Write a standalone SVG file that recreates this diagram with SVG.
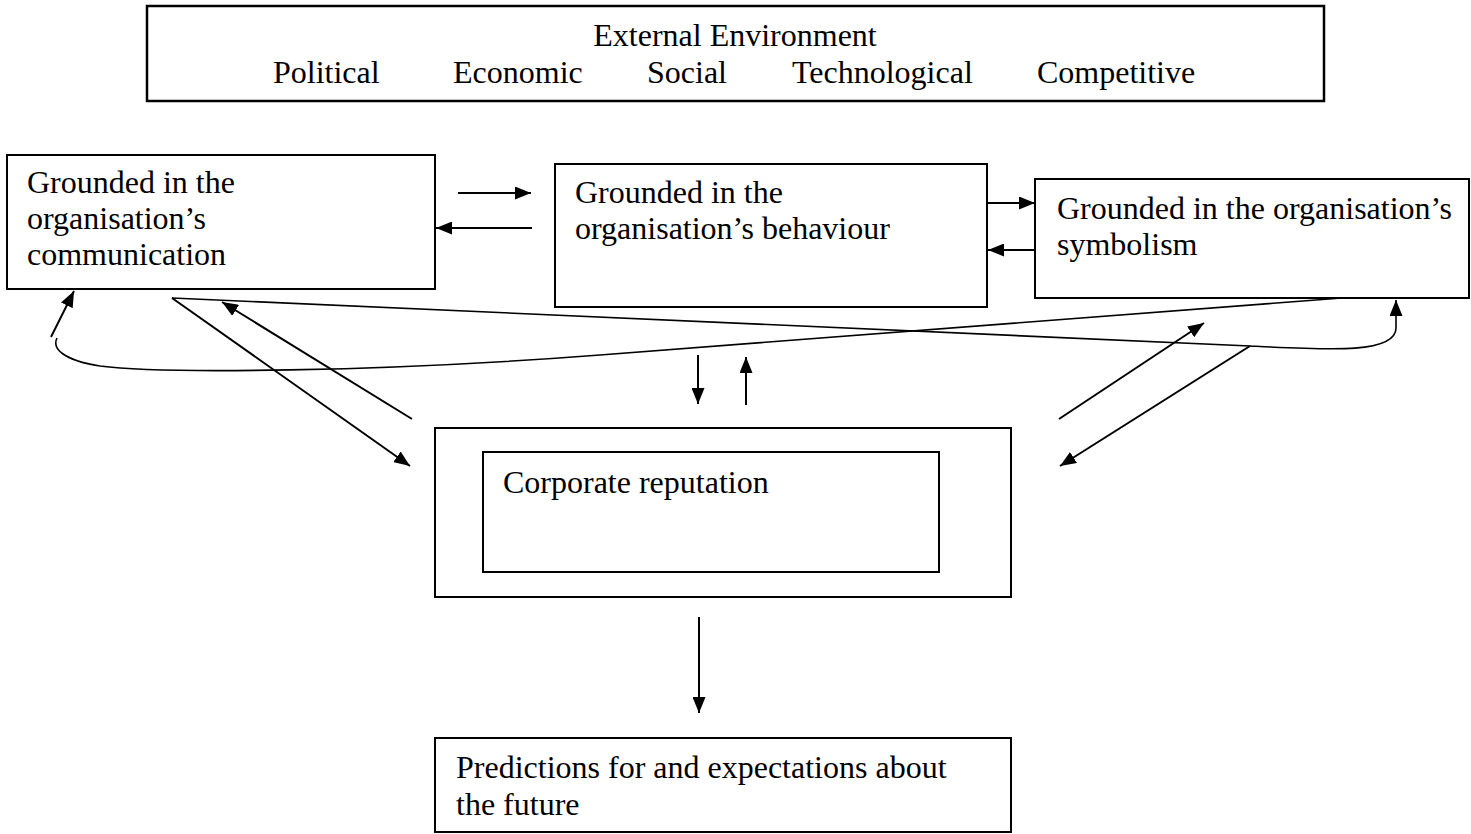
<svg xmlns="http://www.w3.org/2000/svg" width="1471" height="834" viewBox="0 0 1471 834">
<style>
.box{fill:#fff;stroke:#000;stroke-width:2}
.t{font-family:"Liberation Serif","Times New Roman",serif;font-size:32px;fill:#000}
.c{fill:none;stroke:#000;stroke-width:2}
.cv{fill:none;stroke:#000;stroke-width:1.6}
</style>
<defs>
<marker id="ah" viewBox="0 0 16 13" refX="16" refY="6.5" markerWidth="16" markerHeight="13" markerUnits="userSpaceOnUse" orient="auto">
<path d="M0,0 L16,6.5 L0,13 z" fill="#000"/>
</marker>
</defs>
<rect width="1471" height="834" fill="#fff"/>
<g id="external-environment">
<rect class="box" x="147" y="6" width="1177" height="95" style="stroke-width:2.5"/>
<text class="t" x="735" y="46" text-anchor="middle">External Environment</text>
<text class="t" x="273" y="82.5">Political</text>
<text class="t" x="453" y="82.5">Economic</text>
<text class="t" x="647" y="82.5">Social</text>
<text class="t" x="792" y="82.5">Technological</text>
<text class="t" x="1037" y="82.5">Competitive</text>
</g>
<g id="communication">
<rect class="box" x="7" y="155" width="428" height="134"/>
<text class="t" x="27" y="193">Grounded in the</text>
<text class="t" x="27" y="229">organisation’s</text>
<text class="t" x="27" y="265">communication</text>
</g>
<g id="behaviour">
<rect class="box" x="555" y="164" width="432" height="143"/>
<text class="t" x="575" y="203">Grounded in the</text>
<text class="t" x="575" y="239">organisation’s behaviour</text>
</g>
<g id="symbolism">
<rect class="box" x="1035" y="179" width="434" height="119"/>
<text class="t" x="1057" y="219">Grounded in the organisation’s</text>
<text class="t" x="1057" y="255">symbolism</text>
</g>
<g id="corporate-reputation">
<rect class="box" x="435" y="428" width="576" height="169"/>
<rect class="box" x="483" y="452" width="456" height="120"/>
<text class="t" x="503" y="493">Corporate reputation</text>
</g>
<g id="predictions">
<rect class="box" x="435" y="738" width="576" height="94"/>
<text class="t" x="456" y="778">Predictions for and expectations about</text>
<text class="t" x="456" y="815">the future</text>
</g>
<g id="connectors">
<path class="c" d="M458 193 L531 193" marker-end="url(#ah)"/>
<path class="c" d="M532 228 L436 228" marker-end="url(#ah)"/>
<path class="c" d="M987 203 L1035 203" marker-end="url(#ah)"/>
<path class="c" d="M1035 250 L988 250" marker-end="url(#ah)"/>
<path class="cv" d="M172 298 L1250 346 C1330 350 1396 354 1396 328 L1396 300" marker-end="url(#ah)"/>
<path class="cv" d="M1342 298 L600 355 C380 372 160 374 100 366 C62 360 52 348 57 338"/>
<path class="c" d="M51 337 L74 291" marker-end="url(#ah)"/>
<path class="c" d="M172 298 L410 466" marker-end="url(#ah)"/>
<path class="c" d="M412 419 L222 302" marker-end="url(#ah)"/>
<path class="c" d="M1059 419 L1204 323" marker-end="url(#ah)"/>
<path class="c" d="M1250 346 L1060 466" marker-end="url(#ah)"/>
<path class="c" d="M698 355 L698 404" marker-end="url(#ah)"/>
<path class="c" d="M746 405 L746 357" marker-end="url(#ah)"/>
<path class="c" d="M699 617 L699 713" marker-end="url(#ah)"/>
</g>
</svg>
